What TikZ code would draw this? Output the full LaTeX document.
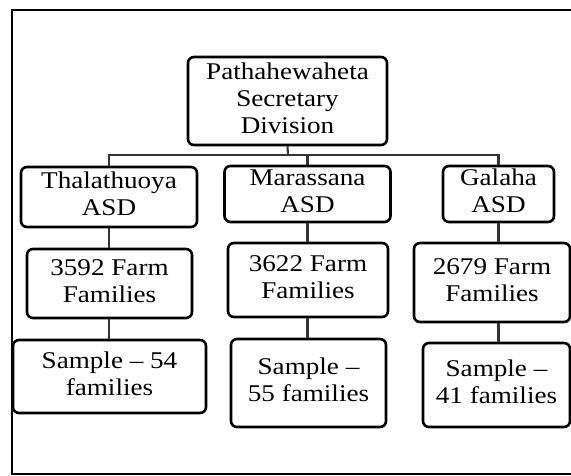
\documentclass[tikz,border=0pt]{standalone}
\usepackage{graphicx}
\usepackage{fontspec}
\setmainfont{Liberation Serif}
\newcommand{\boxtext}[1]{\scalebox{1.13}[1]{\begin{tabular}{@{}c@{}}#1\end{tabular}}}
\begin{document}
\begin{tikzpicture}[x=1pt,y=-1pt,
  box/.style={draw=black, line width=2.6pt, rounded corners=6pt, inner sep=0pt,
    font=\fontsize{24}{27}\selectfont, text=black},
  link/.style={draw=black!80, line width=2.1pt}]
\useasboundingbox (0,0) rectangle (571,475);
\fill[white] (0,0) rectangle (571,475);
\draw[line width=2.6pt, black] (571,10) -- (12,10) -- (12,474) -- (571,474);

\node[box, minimum width=199pt, minimum height=88pt] (root) at (287.5,101) {\boxtext{Pathahewaheta\\Secretary\\Division}};
\node[box, minimum width=176pt, minimum height=60pt] (thal) at (109,197) {\boxtext{Thalathuoya\\ASD}};
\node[box, minimum width=166pt, minimum height=56pt] (mara) at (307.5,194) {\boxtext{Marassana\\ASD}};
\node[box, minimum width=111pt, minimum height=56pt] (gala) at (498.5,194) {\boxtext{Galaha\\ASD}};
\node[box, minimum width=165pt, minimum height=69pt] (f1) at (109.5,283.5) {\boxtext{3592 Farm\\Families}};
\node[box, minimum width=160pt, minimum height=74pt] (f2) at (308,280) {\boxtext{3622 Farm\\Families}};
\node[box, minimum width=156pt, minimum height=79pt] (f3) at (492,282.5) {\boxtext{2679 Farm\\Families}};
\node[box, minimum width=193pt, minimum height=73pt] (s1) at (109.5,376.5) {\boxtext{Sample – 54\\families}};
\node[box, minimum width=155pt, minimum height=88pt] (s2) at (308.5,383) {\boxtext{Sample –\\55 families}};
\node[box, minimum width=147pt, minimum height=84pt] (s3) at (496.5,385) {\boxtext{Sample –\\41 families}};

\coordinate (bus) at (288,155);
\draw[link] (root.south) -- (bus);
\draw[link] (thal.north) |- (gala.north |- bus) -- (gala.north);
\draw[link] (mara.north |- bus) -- (mara.north);
\draw[link] (thal.south) -- (thal.south |- f1.north);
\draw[link] (thal.south |- f1.south) -- (thal.south |- s1.north);
\draw[link] (mara.south) -- (mara.south |- f2.north);
\draw[link] (mara.south |- f2.south) -- (mara.south |- s2.north);
\draw[link] (gala.south) -- (gala.south |- f3.north);
\draw[link] (gala.south |- f3.south) -- (gala.south |- s3.north);
\end{tikzpicture}
\end{document}
